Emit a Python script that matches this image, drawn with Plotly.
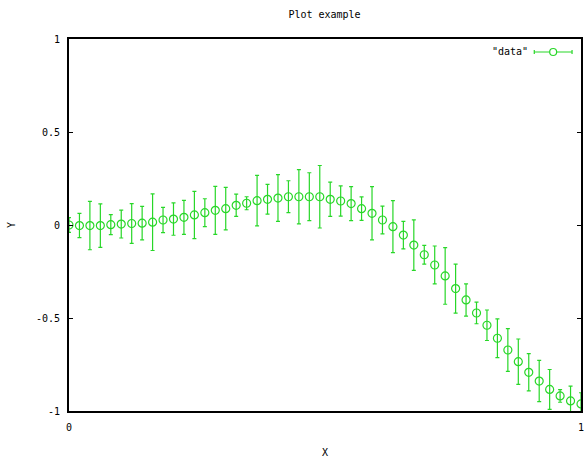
import plotly.graph_objects as go

n_points = 50
x_vals = [i / (n_points - 1) for i in range(n_points)]
y_vals = [0.000, -0.003, -0.003, -0.003, 0.002, 0.005, 0.008, 0.010, 0.015, 0.027,
          0.032, 0.041, 0.054, 0.066, 0.079, 0.088, 0.106, 0.117, 0.131, 0.138,
          0.145, 0.152, 0.152, 0.152, 0.152, 0.138, 0.129, 0.115, 0.088, 0.063,
          0.027, -0.009, -0.054, -0.108, -0.160, -0.215, -0.274, -0.342, -0.403, -0.473,
          -0.539, -0.609, -0.672, -0.735, -0.792, -0.839, -0.884, -0.919, -0.946, -0.962]
y_err = [0.040, 0.065, 0.130, 0.117, 0.054, 0.075, 0.107, 0.090, 0.152, 0.068,
         0.087, 0.091, 0.127, 0.075, 0.129, 0.114, 0.060, 0.035, 0.136, 0.080,
         0.126, 0.086, 0.146, 0.129, 0.168, 0.092, 0.081, 0.091, 0.063, 0.143,
         0.075, 0.140, 0.074, 0.136, 0.050, 0.102, 0.152, 0.132, 0.087, 0.058,
         0.082, 0.104, 0.115, 0.122, 0.100, 0.111, 0.107, 0.034, 0.080, 0.060]
y_ticks = [-1, -0.5, 0, 0.5, 1]
y_tick_text = ["-1", "-0.5", "0", "0.5", "1"]
x_ticks = [0, 1]
x_tick_text = ["0", "1"]

GREEN = "rgb(40,215,40)"
FONT = "DejaVu Sans Mono"

fig = go.Figure()
fig.add_trace(go.Scatter(
    x=x_vals, y=y_vals, mode="markers", name='"data"', showlegend=False,
    marker=dict(symbol="circle-open", size=8, color=GREEN, line=dict(width=1.2, color=GREEN)),
    error_y=dict(type="data", array=y_err, visible=True, color=GREEN, thickness=1.2, width=2),
    cliponaxis=True,
))

# legend sample (gnuplot style: text then sample)
W = 584 - 0 - 69
H = 411 - 39
def px(X):
    return (X - 69) / W
def py(Y):
    return (411 - Y) / H

ly = py(52)
shapes = [
    dict(type="line", xref="paper", yref="paper", x0=px(537), x1=px(575), y0=ly, y1=ly,
         line=dict(color=GREEN, width=1.2)),
    dict(type="line", xref="paper", yref="paper", x0=px(537), x1=px(537), y0=ly - 2 / H, y1=ly + 2 / H,
         line=dict(color=GREEN, width=1.2)),
    dict(type="line", xref="paper", yref="paper", x0=px(575), x1=px(575), y0=ly - 2 / H, y1=ly + 2 / H,
         line=dict(color=GREEN, width=1.2)),
    dict(type="circle", xref="paper", yref="paper", x0=px(552.5), x1=px(559.5), y0=ly - 3.5 / H, y1=ly + 3.5 / H,
         line=dict(color=GREEN, width=1.2), fillcolor="white"),
]

fig.update_layout(
    width=584, height=461,
    margin=dict(l=69, r=0, t=39, b=50),
    paper_bgcolor="white", plot_bgcolor="white",
    font=dict(family=FONT, size=10, color="black"),
    title=dict(text="Plot example", x=px(326), xref="paper", xanchor="center", y=1 - 14 / 461,
               yanchor="middle", font=dict(family=FONT, size=10, color="black")),
    shapes=shapes,
    annotations=[dict(text='"data"', xref="paper", yref="paper", x=px(533), y=ly,
                      xanchor="right", yanchor="middle", showarrow=False,
                      font=dict(family=FONT, size=10, color="black"))],
    showlegend=False,
)
fig.update_xaxes(
    range=[0, 1], tickvals=x_ticks, ticktext=x_tick_text,
    showgrid=False, zeroline=False, showline=True, linecolor="black", linewidth=2,
    mirror="ticks", ticks="inside", ticklen=4, tickcolor="black", tickwidth=1,
    ticklabelstandoff=6, ticklabeloverflow="allow",
    title=dict(text="X", standoff=17, font=dict(family=FONT, size=10)),
)
fig.update_yaxes(
    range=[-1, 1], tickvals=y_ticks, ticktext=y_tick_text,
    showgrid=False, zeroline=False, showline=True, linecolor="black", linewidth=2,
    mirror="ticks", ticks="inside", ticklen=4, tickcolor="black", tickwidth=1,
    ticklabelstandoff=5,
    title=dict(text="Y", standoff=18, font=dict(family=FONT, size=10)),
)

fig.write_html("out.html")
